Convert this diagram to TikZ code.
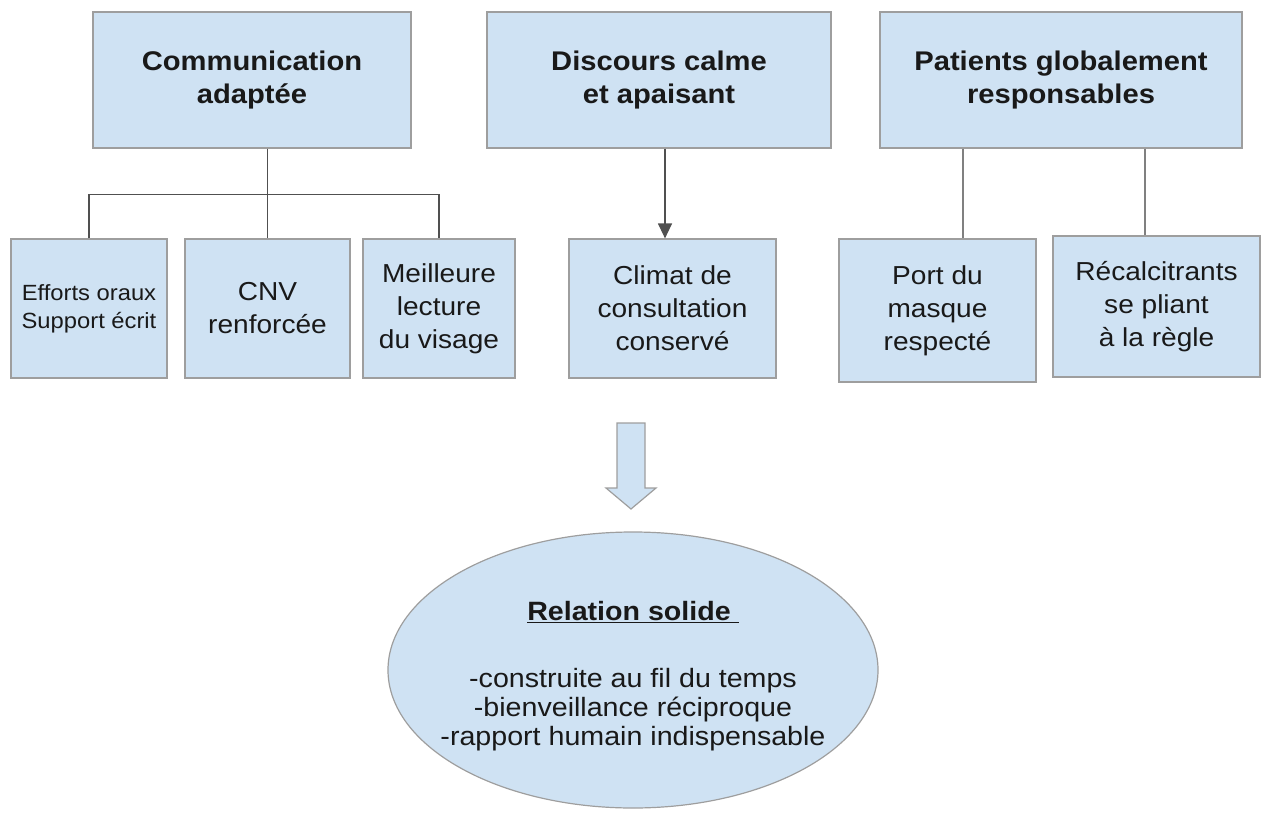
\documentclass[tikz,border=0pt]{standalone}
\usepackage{fontspec}
\setmainfont{Liberation Sans}[FakeStretch=1.08]
\usetikzlibrary{shapes.geometric,arrows.meta}
\definecolor{boxblue}{HTML}{CFE2F3}
\definecolor{boxline}{HTML}{9E9E9E}
\definecolor{linkgray}{HTML}{505050}
\tikzset{
  topbox/.style={draw=boxline,fill=boxblue,line width=1.2pt,minimum width=#1,minimum height=136pt,
    align=center,font=\fontsize{27}{33}\selectfont\bfseries,text=black!90},
  subbox/.style={draw=boxline,fill=boxblue,line width=1.2pt,minimum width=#1,minimum height=139pt,
    align=center,font=\fontsize{26}{33}\selectfont,text=black!90},
  link/.style={draw=linkgray,line width=1.3pt}
}
\begin{document}
\begin{tikzpicture}[x=1pt,y=-1pt]
    \useasboundingbox (0,0) rectangle (1263,813);

    \node[topbox=318pt] (comm) at (252,80) {Communication\\adaptée};
    \node[topbox=344pt] (disc) at (659,80) {Discours calme\\et apaisant};
    \node[topbox=362pt] (pati) at (1061,80) {Patients globalement\\responsables};

    \node[subbox=156pt,font=\fontsize{22}{28}\selectfont] (effo) at (89,308.5) {Efforts oraux\\Support écrit};
    \node[subbox=165pt] (cnv) at (267.5,308.5) {CNV\\renforcée};
    \node[subbox=152pt] (meil) at (439,308.5) {Meilleure\\lecture\\du visage};
    \node[subbox=207pt] (clim) at (672.5,308.5) {Climat de\\consultation\\conservé};
    \node[subbox=197pt,minimum height=143pt] (port) at (937.5,310.5) {Port du\\masque\\respecté};
    \node[subbox=207pt,minimum height=141pt] (reca) at (1156.5,306.5) {Récalcitrants\\se pliant\\à la règle};

    % liens
    \draw[link] (comm.south -| cnv.north) -- ++(0,46) coordinate (fork);
    \draw[link] (effo.north) |- (fork) -| (meil.north);
    \draw[link] (fork) -- (cnv.north);
    \draw[link,-{Triangle[length=15pt,width=14pt]}] ([xshift=-7.5pt]clim.north |- disc.south) -- ([xshift=-7.5pt]clim.north);
    \draw[link,draw=gray] ([xshift=25.5pt]port.north |- pati.south) -- ([xshift=25.5pt]port.north);
    \draw[link,draw=gray] ([xshift=-11.5pt]reca.north |- pati.south) -- ([xshift=-11.5pt]reca.north);

    % grosse fleche
    \draw[draw=boxline,fill=boxblue,line width=1.2pt] (617,423) -- (645,423) -- (645,488) -- (656,488)
        -- (631,509) -- (606,488) -- (617,488) -- cycle;

    \node[ellipse,draw=boxline,fill=boxblue,line width=1.2pt,minimum width=490pt,minimum height=276pt,
        inner sep=0pt] (rela) at (633,670) {};
    \node[align=center,font=\fontsize{26.5}{29}\selectfont,text=black!90] (relatxt) at ([yshift=-6pt]rela.center)
        {\textbf{\underline{Relation solide\ }}\\[38pt]
         -construite au fil du temps\\
         -bienveillance réciproque\\
         -rapport humain indispensable};
\end{tikzpicture}
\end{document}
